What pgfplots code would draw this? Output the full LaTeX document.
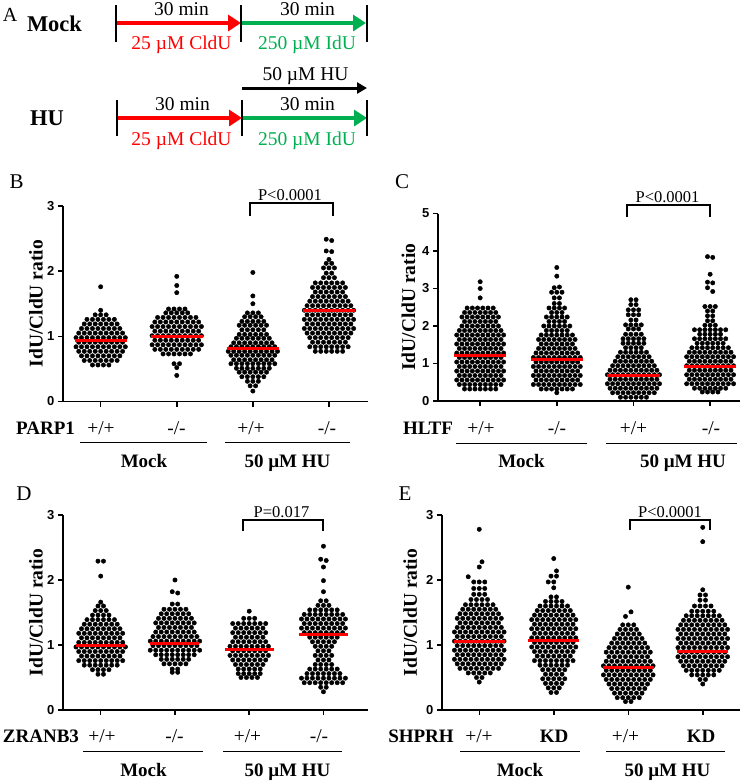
\documentclass[border=0pt]{standalone}
\usepackage{fontspec}
\setmainfont{Liberation Serif}
\setsansfont{Liberation Sans}
\usepackage{pgfplots}
\pgfplotsset{compat=1.18}
\usetikzlibrary{arrows.meta}
\definecolor{cldu}{RGB}{255,0,0}
\definecolor{idu}{RGB}{0,176,80}
\newcommand\fs[1]{\fontsize{#1}{#1}\selectfont}
\tikzset{
  lab/.style={anchor=base, font=\fs{19.5}},
  blab/.style={anchor=base, font=\bfseries\fs{19}},
}
\pgfplotsset{
  swarm/.style={scale only axis, axis x line*=bottom, axis y line*=left,
    clip marker paths=true,
    axis line style={line width=1.5pt}, tick style={black, line width=1.5pt},
    tick align=outside, major tick length=5pt,
    xtick={1,2,3,4}, xticklabels={}, ymin=0,
    /pgf/number format/assume math mode=true,
    yticklabel style={font=\sffamily\bfseries\fs{13}},
    ylabel={IdU/CldU ratio}, ylabel style={font=\bfseries\fs{19.5}, anchor=center}},
  dots/.style={only marks, mark=*, mark size=2.2pt, black},
  mean/.style={draw=cldu, line width=3pt},
  tk/.style={black, line width=1.5pt},
  ul/.style={black, line width=1.3pt},
}
\begin{document}
\begin{tikzpicture}
\useasboundingbox (0,0) rectangle (750pt,-784pt);

% ---------- overlay: schematic and text in image pixels
\begin{axis}[at={(0pt,0pt)}, anchor=north west, scale only axis, width=750pt, height=784pt,
  xmin=0, xmax=750, ymin=0, ymax=784, y dir=reverse, hide axis, clip=false]
% panel A arrows
\addplot[cldu, line width=4.5pt, -{Triangle[length=13pt,width=16pt]}] coordinates {(116,23) (241,23)};
\addplot[idu, line width=4.5pt, -{Triangle[length=13pt,width=16pt]}] coordinates {(241,23) (366,23)};
\addplot[cldu, line width=4.5pt, -{Triangle[length=13pt,width=16pt]}] coordinates {(117,118) (242,118)};
\addplot[idu, line width=4.5pt, -{Triangle[length=13pt,width=16pt]}] coordinates {(242,118) (367,118)};
\addplot[black, line width=3pt, -{Triangle[length=10pt,width=11pt]}] coordinates {(242,88) (367,88)};
\addplot[tk] coordinates {(116,5) (116,42)};
\addplot[tk] coordinates {(241,5) (241,42)};
\addplot[tk] coordinates {(367,5) (367,42)};
\addplot[tk] coordinates {(117,100) (117,136)};
\addplot[tk] coordinates {(242,100) (242,136)};
\addplot[tk] coordinates {(367,100) (367,136)};
\node[anchor=base, font=\fs{20}] at (axis cs:10,21.7) {A};
\node[anchor=base, font=\bfseries\fs{22.5}] at (axis cs:54.5,31) {Mock};
\node[anchor=base, font=\bfseries\fs{22.5}] at (axis cs:47,125) {HU};
\node[anchor=base, font=\fs{19.5}] at (axis cs:181.5,15) {30 min};
\node[anchor=base, font=\fs{19.5}] at (axis cs:307.5,15) {30 min};
\node[anchor=base, font=\fs{19.5}, text=cldu] at (axis cs:181.5,49.5) {25 µM CldU};
\node[anchor=base, font=\fs{19.5}, text=idu] at (axis cs:307,49.5) {250 µM IdU};
\node[anchor=base, font=\fs{19.5}] at (axis cs:305.5,80) {50 µM HU};
\node[anchor=base, font=\fs{19.5}] at (axis cs:182.5,110) {30 min};
\node[anchor=base, font=\fs{19.5}] at (axis cs:307.5,110) {30 min};
\node[anchor=base, font=\fs{19.5}, text=cldu] at (axis cs:181.5,145) {25 µM CldU};
\node[anchor=base, font=\fs{19.5}, text=idu] at (axis cs:307,145) {250 µM IdU};
% panel letters
\node[anchor=base, font=\fs{21}] at (axis cs:16.7,188.5) {B};
\node[anchor=base, font=\fs{21}] at (axis cs:402,188.5) {C};
\node[anchor=base, font=\fs{21}] at (axis cs:24,500) {D};
\node[anchor=base, font=\fs{21}] at (axis cs:405,500) {E};
% brackets
\addplot[ul] coordinates {(250,216) (250,203) (333,203) (333,216)};
\node[anchor=base, font=\fs{16.5}] at (axis cs:290,200) {P<0.0001};
\addplot[ul] coordinates {(627,217) (627,205) (710,205) (710,217)};
\node[anchor=base, font=\fs{16.5}] at (axis cs:667.5,202) {P<0.0001};
\addplot[ul] coordinates {(243,531) (243,520) (323,520) (323,531)};
\node[anchor=base, font=\fs{16.5}] at (axis cs:281.5,517) {P=0.017};
\addplot[ul] coordinates {(630,530) (630,520) (710,520) (710,530)};
\node[anchor=base, font=\fs{16.5}] at (axis cs:670,517) {P<0.0001};
% category labels B
\node[blab] at (axis cs:45.5,434.5) {PARP1};
\node[lab] at (axis cs:101,434.5) {+/+};
\node[lab] at (axis cs:176.5,434.5) {-/-};
\node[lab] at (axis cs:251,434.5) {+/+};
\node[lab] at (axis cs:327,434.5) {-/-};
\addplot[ul] coordinates {(80,442.5) (207,442.5)};
\addplot[ul] coordinates {(225,442.5) (350,442.5)};
\node[blab] at (axis cs:144,467) {Mock};
\node[blab] at (axis cs:287.5,467) {50 µM HU};
% category labels C
\node[blab] at (axis cs:428,434.5) {HLTF};
\node[lab] at (axis cs:481,434.5) {+/+};
\node[lab] at (axis cs:557,434.5) {-/-};
\node[lab] at (axis cs:633.5,434.5) {+/+};
\node[lab] at (axis cs:711,434.5) {-/-};
\addplot[ul] coordinates {(456,443.5) (587,443.5)};
\addplot[ul] coordinates {(606,443.5) (737,443.5)};
\node[blab] at (axis cs:521.5,467) {Mock};
\node[blab] at (axis cs:683,467) {50 µM HU};
% category labels D
\node[blab] at (axis cs:41,742.5) {ZRANB3};
\node[lab] at (axis cs:102,742.5) {+/+};
\node[lab] at (axis cs:174.5,742.5) {-/-};
\node[lab] at (axis cs:247.5,742.5) {+/+};
\node[lab] at (axis cs:319,742.5) {-/-};
\addplot[ul] coordinates {(83,751.5) (203,751.5)};
\addplot[ul] coordinates {(223,751.5) (342,751.5)};
\node[blab] at (axis cs:143.5,776.5) {Mock};
\node[blab] at (axis cs:287.5,776.5) {50 µM HU};
% category labels E
\node[blab] at (axis cs:421,742.5) {SHPRH};
\node[lab] at (axis cs:479,742.5) {+/+};
\node[blab] at (axis cs:554,742.5) {KD};
\node[lab] at (axis cs:625.5,742.5) {+/+};
\node[blab] at (axis cs:701,742.5) {KD};
\addplot[ul] coordinates {(460,751.5) (580,751.5)};
\addplot[ul] coordinates {(606,751.5) (725,751.5)};
\node[blab] at (axis cs:520,776.5) {Mock};
\node[blab] at (axis cs:667.5,776.5) {50 µM HU};
\end{axis}

% ---------- B: PARP1
\begin{axis}[swarm, at={(63pt,-401.5pt)}, anchor=south west, width=305pt, height=195.5pt,
  xmin=0.505, xmax=4.513, ymax=3, ytick={0,1,2,3},
  ylabel style={at={(axis description cs:-0.0885,0.5)}}]
\addplot[dots] table[row sep=\\, x expr=1+0.036*\thisrow{o}, y=y] {o y\\
0 1.76\\0 1.40\\
-2 1.33\\0 1.33\\2 1.33\\
-5 1.26\\-3 1.26\\-1 1.26\\1 1.26\\3 1.26\\5 1.26\\
-6 1.19\\-4 1.19\\-2 1.19\\0 1.19\\2 1.19\\4 1.19\\6 1.19\\
-7 1.12\\-5 1.12\\-3 1.12\\-1 1.12\\1 1.12\\3 1.12\\5 1.12\\7 1.12\\
-8 1.05\\-6 1.05\\-4 1.05\\-2 1.05\\0 1.05\\2 1.05\\4 1.05\\6 1.05\\8 1.05\\
-9 .98\\-7 .98\\-5 .98\\-3 .98\\-1 .98\\1 .98\\3 .98\\5 .98\\7 .98\\9 .98\\
-8 .91\\-6 .91\\-4 .91\\-2 .91\\0 .91\\2 .91\\4 .91\\6 .91\\8 .91\\
-9 .84\\-7 .84\\-5 .84\\-3 .84\\-1 .84\\1 .84\\3 .84\\5 .84\\7 .84\\9 .84\\
-8 .77\\-6 .77\\-4 .77\\-2 .77\\0 .77\\2 .77\\4 .77\\6 .77\\8 .77\\
-7 .70\\-5 .70\\-3 .70\\-1 .70\\1 .70\\3 .70\\5 .70\\7 .70\\
-6 .63\\-4 .63\\-2 .63\\0 .63\\2 .63\\4 .63\\6 .63\\
-3 .56\\-1 .56\\1 .56\\3 .56\\
};
\addplot[dots] table[row sep=\\, x expr=2+0.036*\thisrow{o}, y=y] {o y\\
0 1.92\\0 1.78\\0 1.67\\
-3 1.42\\-1 1.42\\1 1.42\\3 1.42\\
-4 1.36\\-2 1.36\\0 1.36\\2 1.36\\4 1.36\\
-7 1.29\\-5 1.29\\-3 1.29\\-1 1.29\\1 1.29\\3 1.29\\5 1.29\\7 1.29\\
-8 1.22\\-6 1.22\\-4 1.22\\-2 1.22\\0 1.22\\2 1.22\\4 1.22\\6 1.22\\8 1.22\\
-9 1.15\\-7 1.15\\-5 1.15\\-3 1.15\\-1 1.15\\1 1.15\\3 1.15\\5 1.15\\7 1.15\\9 1.15\\
-8 1.08\\-6 1.08\\-4 1.08\\-2 1.08\\0 1.08\\2 1.08\\4 1.08\\6 1.08\\8 1.08\\
-9 1.01\\-7 1.01\\-5 1.01\\-3 1.01\\-1 1.01\\1 1.01\\3 1.01\\5 1.01\\7 1.01\\9 1.01\\
-8 .94\\-6 .94\\-4 .94\\-2 .94\\0 .94\\2 .94\\4 .94\\6 .94\\8 .94\\
-9 .87\\-7 .87\\-5 .87\\-3 .87\\-1 .87\\1 .87\\3 .87\\5 .87\\7 .87\\9 .87\\
-8 .80\\-6 .80\\-4 .80\\-2 .80\\0 .80\\2 .80\\4 .80\\6 .80\\8 .80\\
-5 .73\\-3 .73\\-1 .73\\1 .73\\3 .73\\5 .73\\
-1 .58\\1 .58\\0 .52\\0 .40\\
};
\addplot[dots] table[row sep=\\, x expr=3+0.036*\thisrow{o}, y=y] {o y\\
0 1.98\\0 1.62\\0 1.50\\
-2 1.36\\0 1.36\\2 1.36\\
-3 1.30\\-1 1.30\\1 1.30\\3 1.30\\
-4 1.23\\-2 1.23\\0 1.23\\2 1.23\\4 1.23\\
-5 1.17\\-3 1.17\\-1 1.17\\1 1.17\\3 1.17\\5 1.17\\
-4 1.10\\-2 1.10\\0 1.10\\2 1.10\\4 1.10\\
-5 1.03\\-3 1.03\\-1 1.03\\1 1.03\\3 1.03\\5 1.03\\
-6 .97\\-4 .97\\-2 .97\\0 .97\\2 .97\\4 .97\\6 .97\\
-7 .90\\-5 .90\\-3 .90\\-1 .90\\1 .90\\3 .90\\5 .90\\7 .90\\
-8 .84\\-6 .84\\-4 .84\\-2 .84\\0 .84\\2 .84\\4 .84\\6 .84\\8 .84\\
-9 .77\\-7 .77\\-5 .77\\-3 .77\\-1 .77\\1 .77\\3 .77\\5 .77\\7 .77\\9 .77\\
-8 .71\\-6 .71\\-4 .71\\-2 .71\\0 .71\\2 .71\\4 .71\\6 .71\\8 .71\\
-7 .64\\-5 .64\\-3 .64\\-1 .64\\1 .64\\3 .64\\5 .64\\7 .64\\
-8 .58\\-6 .58\\-4 .58\\-2 .58\\0 .58\\2 .58\\4 .58\\6 .58\\8 .58\\
-6 .51\\-4 .51\\-2 .51\\0 .51\\2 .51\\4 .51\\6 .51\\
-5 .45\\-3 .45\\-1 .45\\1 .45\\3 .45\\5 .45\\
-4 .38\\-2 .38\\0 .38\\2 .38\\4 .38\\
-2 .31\\0 .31\\2 .31\\
-1 .24\\1 .24\\0 .16\\
};
\addplot[dots] table[row sep=\\, x expr=4+0.036*\thisrow{o}, y=y] {o y\\
-1 2.49\\1 2.47\\-1 2.31\\1 2.30\\0 2.18\\-1 2.12\\1 2.12\\
-2 2.05\\0 2.05\\2 2.05\\-1 1.97\\1 1.97\\-2 1.90\\0 1.90\\2 1.90\\
-5 1.82\\-3 1.82\\-1 1.82\\1 1.82\\3 1.82\\5 1.82\\
-6 1.75\\-4 1.75\\-2 1.75\\0 1.75\\2 1.75\\4 1.75\\6 1.75\\
-5 1.68\\-3 1.68\\-1 1.68\\1 1.68\\3 1.68\\5 1.68\\
-6 1.61\\-4 1.61\\-2 1.61\\0 1.61\\2 1.61\\4 1.61\\6 1.61\\
-7 1.54\\-5 1.54\\-3 1.54\\-1 1.54\\1 1.54\\3 1.54\\5 1.54\\7 1.54\\
-8 1.47\\-6 1.47\\-4 1.47\\-2 1.47\\0 1.47\\2 1.47\\4 1.47\\6 1.47\\8 1.47\\
-9 1.40\\-7 1.40\\-5 1.40\\-3 1.40\\-1 1.40\\1 1.40\\3 1.40\\5 1.40\\7 1.40\\9 1.40\\
-8 1.33\\-6 1.33\\-4 1.33\\-2 1.33\\0 1.33\\2 1.33\\4 1.33\\6 1.33\\8 1.33\\
-9 1.26\\-7 1.26\\-5 1.26\\-3 1.26\\-1 1.26\\1 1.26\\3 1.26\\5 1.26\\7 1.26\\9 1.26\\
-8 1.19\\-6 1.19\\-4 1.19\\-2 1.19\\0 1.19\\2 1.19\\4 1.19\\6 1.19\\8 1.19\\
-9 1.12\\-7 1.12\\-5 1.12\\-3 1.12\\-1 1.12\\1 1.12\\3 1.12\\5 1.12\\7 1.12\\9 1.12\\
-8 1.05\\-6 1.05\\-4 1.05\\-2 1.05\\0 1.05\\2 1.05\\4 1.05\\6 1.05\\8 1.05\\
-7 .98\\-5 .98\\-3 .98\\-1 .98\\1 .98\\3 .98\\5 .98\\7 .98\\
-6 .91\\-4 .91\\-2 .91\\0 .91\\2 .91\\4 .91\\6 .91\\
-7 .84\\-5 .84\\-3 .84\\-1 .84\\1 .84\\3 .84\\5 .84\\7 .84\\
-5 .77\\-3 .77\\-1 .77\\1 .77\\3 .77\\5 .77\\
};
\addplot[mean] coordinates {(0.66,0.94) (1.34,0.94)};
\addplot[mean] coordinates {(1.66,0.99) (2.34,0.99)};
\addplot[mean] coordinates {(2.66,0.81) (3.34,0.81)};
\addplot[mean] coordinates {(3.66,1.39) (4.34,1.39)};
\end{axis}

% ---------- C: HLTF
\begin{axis}[swarm, at={(438pt,-401pt)}, anchor=south west, width=302pt, height=187.5pt,
  xmin=0.45, xmax=4.39, ymax=5, ytick={0,1,2,3,4,5},
  ylabel style={at={(axis description cs:-0.098,0.5)}}]
\addplot[dots] table[row sep=\\, x expr=1+0.034*\thisrow{o}, y=y] {o y\\
0 3.18\\0 3.00\\0 2.75\\
-5 2.48\\-3 2.48\\-1 2.48\\1 2.48\\3 2.48\\5 2.48\\
-6 2.36\\-4 2.36\\-2 2.36\\0 2.36\\2 2.36\\4 2.36\\6 2.36\\
-7 2.24\\-5 2.24\\-3 2.24\\-1 2.24\\1 2.24\\3 2.24\\5 2.24\\7 2.24\\
-6 2.12\\-4 2.12\\-2 2.12\\0 2.12\\2 2.12\\4 2.12\\6 2.12\\
-7 2.00\\-5 2.00\\-3 2.00\\-1 2.00\\1 2.00\\3 2.00\\5 2.00\\7 2.00\\
-8 1.88\\-6 1.88\\-4 1.88\\-2 1.88\\0 1.88\\2 1.88\\4 1.88\\6 1.88\\8 1.88\\
-9 1.76\\-7 1.76\\-5 1.76\\-3 1.76\\-1 1.76\\1 1.76\\3 1.76\\5 1.76\\7 1.76\\9 1.76\\
-8 1.64\\-6 1.64\\-4 1.64\\-2 1.64\\0 1.64\\2 1.64\\4 1.64\\6 1.64\\8 1.64\\
-9 1.52\\-7 1.52\\-5 1.52\\-3 1.52\\-1 1.52\\1 1.52\\3 1.52\\5 1.52\\7 1.52\\9 1.52\\
-8 1.40\\-6 1.40\\-4 1.40\\-2 1.40\\0 1.40\\2 1.40\\4 1.40\\6 1.40\\8 1.40\\
-9 1.28\\-7 1.28\\-5 1.28\\-3 1.28\\-1 1.28\\1 1.28\\3 1.28\\5 1.28\\7 1.28\\9 1.28\\
-8 1.16\\-6 1.16\\-4 1.16\\-2 1.16\\0 1.16\\2 1.16\\4 1.16\\6 1.16\\8 1.16\\
-9 1.04\\-7 1.04\\-5 1.04\\-3 1.04\\-1 1.04\\1 1.04\\3 1.04\\5 1.04\\7 1.04\\9 1.04\\
-8 .92\\-6 .92\\-4 .92\\-2 .92\\0 .92\\2 .92\\4 .92\\6 .92\\8 .92\\
-9 .80\\-7 .80\\-5 .80\\-3 .80\\-1 .80\\1 .80\\3 .80\\5 .80\\7 .80\\9 .80\\
-8 .68\\-6 .68\\-4 .68\\-2 .68\\0 .68\\2 .68\\4 .68\\6 .68\\8 .68\\
-9 .56\\-7 .56\\-5 .56\\-3 .56\\-1 .56\\1 .56\\3 .56\\5 .56\\7 .56\\9 .56\\
-8 .44\\-6 .44\\-4 .44\\-2 .44\\0 .44\\2 .44\\4 .44\\6 .44\\8 .44\\
-6 .32\\-4 .32\\-2 .32\\0 .32\\2 .32\\4 .32\\6 .32\\
};
\addplot[dots] table[row sep=\\, x expr=2+0.034*\thisrow{o}, y=y] {o y\\
0 3.56\\0 3.33\\-1 3.02\\1 3.04\\-2 2.90\\0 2.90\\2 2.90\\-1 2.75\\1 2.75\\
-1 2.60\\1 2.60\\-3 2.48\\-1 2.48\\1 2.48\\3 2.48\\-2 2.36\\0 2.36\\2 2.36\\
-4 2.24\\-2 2.24\\0 2.24\\2 2.24\\4 2.24\\-3 2.12\\-1 2.12\\1 2.12\\3 2.12\\
-5 2.00\\-3 2.00\\-1 2.00\\1 2.00\\3 2.00\\5 2.00\\
-4 1.88\\-2 1.88\\0 1.88\\2 1.88\\4 1.88\\
-6 1.76\\-4 1.76\\-2 1.76\\0 1.76\\2 1.76\\4 1.76\\6 1.76\\
-7 1.64\\-5 1.64\\-3 1.64\\-1 1.64\\1 1.64\\3 1.64\\5 1.64\\7 1.64\\
-6 1.52\\-4 1.52\\-2 1.52\\0 1.52\\2 1.52\\4 1.52\\6 1.52\\
-7 1.40\\-5 1.40\\-3 1.40\\-1 1.40\\1 1.40\\3 1.40\\5 1.40\\7 1.40\\
-8 1.28\\-6 1.28\\-4 1.28\\-2 1.28\\0 1.28\\2 1.28\\4 1.28\\6 1.28\\8 1.28\\
-9 1.16\\-7 1.16\\-5 1.16\\-3 1.16\\-1 1.16\\1 1.16\\3 1.16\\5 1.16\\7 1.16\\9 1.16\\
-8 1.04\\-6 1.04\\-4 1.04\\-2 1.04\\0 1.04\\2 1.04\\4 1.04\\6 1.04\\8 1.04\\
-9 .92\\-7 .92\\-5 .92\\-3 .92\\-1 .92\\1 .92\\3 .92\\5 .92\\7 .92\\9 .92\\
-8 .80\\-6 .80\\-4 .80\\-2 .80\\0 .80\\2 .80\\4 .80\\6 .80\\8 .80\\
-9 .68\\-7 .68\\-5 .68\\-3 .68\\-1 .68\\1 .68\\3 .68\\5 .68\\7 .68\\9 .68\\
-8 .56\\-6 .56\\-4 .56\\-2 .56\\0 .56\\2 .56\\4 .56\\6 .56\\8 .56\\
-9 .44\\-7 .44\\-5 .44\\-3 .44\\-1 .44\\1 .44\\3 .44\\5 .44\\7 .44\\9 .44\\
-6 .32\\-4 .32\\-2 .32\\0 .32\\2 .32\\4 .32\\6 .32\\
0 .22\\
};
\addplot[dots] table[row sep=\\, x expr=3+0.034*\thisrow{o}, y=y] {o y\\
-1 2.70\\1 2.70\\-1 2.57\\1 2.57\\-2 2.43\\0 2.43\\2 2.43\\-2 2.30\\0 2.30\\2 2.30\\
-1 2.16\\1 2.16\\-3 2.03\\-1 2.03\\1 2.03\\3 2.03\\-2 1.92\\0 1.92\\2 1.92\\
-3 1.78\\-1 1.78\\1 1.78\\3 1.78\\-4 1.66\\-2 1.66\\0 1.66\\2 1.66\\4 1.66\\
-4 1.54\\-2 1.54\\0 1.54\\2 1.54\\4 1.54\\-3 1.42\\-1 1.42\\1 1.42\\3 1.42\\
-5 1.30\\-3 1.30\\-1 1.30\\1 1.30\\3 1.30\\5 1.30\\
-6 1.18\\-4 1.18\\-2 1.18\\0 1.18\\2 1.18\\4 1.18\\6 1.18\\
-7 1.06\\-5 1.06\\-3 1.06\\-1 1.06\\1 1.06\\3 1.06\\5 1.06\\7 1.06\\
-8 .94\\-6 .94\\-4 .94\\-2 .94\\0 .94\\2 .94\\4 .94\\6 .94\\8 .94\\
-9 .82\\-7 .82\\-5 .82\\-3 .82\\-1 .82\\1 .82\\3 .82\\5 .82\\7 .82\\9 .82\\
-10 .70\\-8 .70\\-6 .70\\-4 .70\\-2 .70\\0 .70\\2 .70\\4 .70\\6 .70\\8 .70\\10 .70\\
-9 .58\\-7 .58\\-5 .58\\-3 .58\\-1 .58\\1 .58\\3 .58\\5 .58\\7 .58\\9 .58\\
-10 .46\\-8 .46\\-6 .46\\-4 .46\\-2 .46\\0 .46\\2 .46\\4 .46\\6 .46\\8 .46\\10 .46\\
-9 .34\\-7 .34\\-5 .34\\-3 .34\\-1 .34\\1 .34\\3 .34\\5 .34\\7 .34\\9 .34\\
-8 .22\\-6 .22\\-4 .22\\-2 .22\\0 .22\\2 .22\\4 .22\\6 .22\\8 .22\\
-5 .10\\-3 .10\\-1 .10\\1 .10\\3 .10\\5 .10\\
};
\addplot[dots] table[row sep=\\, x expr=4+0.034*\thisrow{o}, y=y] {o y\\
-1 3.85\\1 3.83\\0 3.38\\-1 3.17\\1 3.15\\-1 3.02\\1 2.92\\
-2 2.52\\0 2.52\\2 2.52\\-1 2.40\\1 2.40\\-1 2.27\\1 2.27\\-1 2.14\\1 2.14\\-2 2.02\\0 2.02\\2 2.02\\
-6 1.90\\-4 1.90\\-2 1.90\\0 1.90\\2 1.90\\4 1.90\\6 1.90\\
-4 1.78\\-2 1.78\\0 1.78\\2 1.78\\4 1.78\\
-6 1.66\\-4 1.66\\-2 1.66\\0 1.66\\2 1.66\\4 1.66\\6 1.66\\
-5 1.54\\-3 1.54\\-1 1.54\\1 1.54\\3 1.54\\5 1.54\\
-7 1.42\\-5 1.42\\-3 1.42\\-1 1.42\\1 1.42\\3 1.42\\5 1.42\\7 1.42\\
-8 1.30\\-6 1.30\\-4 1.30\\-2 1.30\\0 1.30\\2 1.30\\4 1.30\\6 1.30\\8 1.30\\
-9 1.18\\-7 1.18\\-5 1.18\\-3 1.18\\-1 1.18\\1 1.18\\3 1.18\\5 1.18\\7 1.18\\9 1.18\\
-8 1.06\\-6 1.06\\-4 1.06\\-2 1.06\\0 1.06\\2 1.06\\4 1.06\\6 1.06\\8 1.06\\
-9 .94\\-7 .94\\-5 .94\\-3 .94\\-1 .94\\1 .94\\3 .94\\5 .94\\7 .94\\9 .94\\
-8 .82\\-6 .82\\-4 .82\\-2 .82\\0 .82\\2 .82\\4 .82\\6 .82\\8 .82\\
-9 .70\\-7 .70\\-5 .70\\-3 .70\\-1 .70\\1 .70\\3 .70\\5 .70\\7 .70\\9 .70\\
-8 .58\\-6 .58\\-4 .58\\-2 .58\\0 .58\\2 .58\\4 .58\\6 .58\\8 .58\\
-9 .46\\-7 .46\\-5 .46\\-3 .46\\-1 .46\\1 .46\\3 .46\\5 .46\\7 .46\\9 .46\\
-6 .34\\-4 .34\\-2 .34\\0 .34\\2 .34\\4 .34\\6 .34\\
-3 .24\\-1 .24\\1 .24\\3 .24\\
};
\addplot[mean] coordinates {(0.66,1.22) (1.34,1.22)};
\addplot[mean] coordinates {(1.66,1.12) (2.34,1.12)};
\addplot[mean] coordinates {(2.66,0.67) (3.34,0.67)};
\addplot[mean] coordinates {(3.66,0.93) (4.34,0.93)};
\end{axis}

% ---------- D: ZRANB3
\begin{axis}[swarm, at={(63pt,-710pt)}, anchor=south west, width=305pt, height=195pt,
  xmin=0.492, xmax=4.6, ymax=3, ytick={0,1,2,3},
  ylabel style={at={(axis description cs:-0.0885,0.5)}}]
\addplot[dots] table[row sep=\\, x expr=1+0.037*\thisrow{o}, y=y] {o y\\
-1 2.29\\1 2.29\\0 2.06\\0 1.66\\-1 1.60\\1 1.60\\
-2 1.53\\0 1.53\\2 1.53\\-3 1.46\\-1 1.46\\1 1.46\\3 1.46\\
-5 1.39\\-3 1.39\\-1 1.39\\1 1.39\\3 1.39\\5 1.39\\
-6 1.32\\-4 1.32\\-2 1.32\\0 1.32\\2 1.32\\4 1.32\\6 1.32\\
-7 1.25\\-5 1.25\\-3 1.25\\-1 1.25\\1 1.25\\3 1.25\\5 1.25\\7 1.25\\
-8 1.18\\-6 1.18\\-4 1.18\\-2 1.18\\0 1.18\\2 1.18\\4 1.18\\6 1.18\\8 1.18\\
-7 1.11\\-5 1.11\\-3 1.11\\-1 1.11\\1 1.11\\3 1.11\\5 1.11\\7 1.11\\
-8 1.04\\-6 1.04\\-4 1.04\\-2 1.04\\0 1.04\\2 1.04\\4 1.04\\6 1.04\\8 1.04\\
-9 .97\\-7 .97\\-5 .97\\-3 .97\\-1 .97\\1 .97\\3 .97\\5 .97\\7 .97\\9 .97\\
-8 .90\\-6 .90\\-4 .90\\-2 .90\\0 .90\\2 .90\\4 .90\\6 .90\\8 .90\\
-7 .83\\-5 .83\\-3 .83\\-1 .83\\1 .83\\3 .83\\5 .83\\7 .83\\
-8 .76\\-6 .76\\-4 .76\\-2 .76\\0 .76\\2 .76\\4 .76\\6 .76\\8 .76\\
-6 .69\\-4 .69\\-2 .69\\0 .69\\2 .69\\4 .69\\6 .69\\
-3 .62\\-1 .62\\1 .62\\3 .62\\
-1 .55\\1 .55\\
};
\addplot[dots] table[row sep=\\, x expr=2+0.037*\thisrow{o}, y=y] {o y\\
0 2.00\\-1 1.82\\1 1.80\\-1 1.63\\1 1.63\\
-4 1.55\\-2 1.55\\0 1.55\\2 1.55\\4 1.55\\
-5 1.48\\-3 1.48\\-1 1.48\\1 1.48\\3 1.48\\5 1.48\\
-6 1.41\\-4 1.41\\-2 1.41\\0 1.41\\2 1.41\\4 1.41\\6 1.41\\
-7 1.34\\-5 1.34\\-3 1.34\\-1 1.34\\1 1.34\\3 1.34\\5 1.34\\7 1.34\\
-6 1.27\\-4 1.27\\-2 1.27\\0 1.27\\2 1.27\\4 1.27\\6 1.27\\
-7 1.20\\-5 1.20\\-3 1.20\\-1 1.20\\1 1.20\\3 1.20\\5 1.20\\7 1.20\\
-8 1.13\\-6 1.13\\-4 1.13\\-2 1.13\\0 1.13\\2 1.13\\4 1.13\\6 1.13\\8 1.13\\
-9 1.06\\-7 1.06\\-5 1.06\\-3 1.06\\-1 1.06\\1 1.06\\3 1.06\\5 1.06\\7 1.06\\9 1.06\\
-8 .99\\-6 .99\\-4 .99\\-2 .99\\0 .99\\2 .99\\4 .99\\6 .99\\8 .99\\
-9 .92\\-7 .92\\-5 .92\\-3 .92\\-1 .92\\1 .92\\3 .92\\5 .92\\7 .92\\9 .92\\
-7 .85\\-5 .85\\-3 .85\\-1 .85\\1 .85\\3 .85\\5 .85\\7 .85\\
-5 .78\\-3 .78\\-1 .78\\1 .78\\3 .78\\5 .78\\
-4 .71\\-2 .71\\0 .71\\2 .71\\4 .71\\
-1 .63\\1 .63\\-1 .58\\1 .58\\
};
\addplot[dots] table[row sep=\\, x expr=3+0.037*\thisrow{o}, y=y] {o y\\
0 1.52\\-2 1.41\\0 1.41\\2 1.41\\
-6 1.33\\-4 1.33\\-2 1.33\\0 1.33\\2 1.33\\4 1.33\\6 1.33\\
-5 1.26\\-3 1.26\\-1 1.26\\1 1.26\\3 1.26\\5 1.26\\
-6 1.19\\-4 1.19\\-2 1.19\\0 1.19\\2 1.19\\4 1.19\\6 1.19\\
-5 1.12\\-3 1.12\\-1 1.12\\1 1.12\\3 1.12\\5 1.12\\
-6 1.05\\-4 1.05\\-2 1.05\\0 1.05\\2 1.05\\4 1.05\\6 1.05\\
-7 .98\\-5 .98\\-3 .98\\-1 .98\\1 .98\\3 .98\\5 .98\\7 .98\\
-6 .91\\-4 .91\\-2 .91\\0 .91\\2 .91\\4 .91\\6 .91\\
-7 .84\\-5 .84\\-3 .84\\-1 .84\\1 .84\\3 .84\\5 .84\\7 .84\\
-6 .77\\-4 .77\\-2 .77\\0 .77\\2 .77\\4 .77\\6 .77\\
-5 .70\\-3 .70\\-1 .70\\1 .70\\3 .70\\5 .70\\
-4 .63\\-2 .63\\0 .63\\2 .63\\4 .63\\
-4 .56\\-2 .56\\0 .56\\2 .56\\4 .56\\
-3 .50\\-1 .50\\1 .50\\3 .50\\
};
\addplot[dots] table[row sep=\\, x expr=4+0.037*\thisrow{o}, y=y] {o y\\
0 2.52\\-1 2.32\\1 2.30\\0 2.20\\0 1.99\\0 1.82\\-1 1.68\\1 1.68\\
-2 1.61\\0 1.61\\2 1.61\\
-5 1.54\\-3 1.54\\-1 1.54\\1 1.54\\3 1.54\\5 1.54\\
-7 1.47\\-5 1.47\\-3 1.47\\-1 1.47\\1 1.47\\3 1.47\\5 1.47\\7 1.47\\
-8 1.40\\-6 1.40\\-4 1.40\\-2 1.40\\0 1.40\\2 1.40\\4 1.40\\6 1.40\\8 1.40\\
-7 1.33\\-5 1.33\\-3 1.33\\-1 1.33\\1 1.33\\3 1.33\\5 1.33\\7 1.33\\
-8 1.26\\-6 1.26\\-4 1.26\\-2 1.26\\0 1.26\\2 1.26\\4 1.26\\6 1.26\\8 1.26\\
-7 1.19\\-5 1.19\\-3 1.19\\-1 1.19\\1 1.19\\3 1.19\\5 1.19\\7 1.19\\
-5 1.12\\-3 1.12\\-1 1.12\\1 1.12\\3 1.12\\5 1.12\\
-4 1.05\\-2 1.05\\0 1.05\\2 1.05\\4 1.05\\
-3 .98\\-1 .98\\1 .98\\3 .98\\
-2 .91\\0 .91\\2 .91\\
-3 .84\\-1 .84\\1 .84\\3 .84\\
-2 .77\\0 .77\\2 .77\\
-3 .70\\-1 .70\\1 .70\\3 .70\\
-5 .63\\-3 .63\\-1 .63\\1 .63\\3 .63\\5 .63\\
-6 .56\\-4 .56\\-2 .56\\0 .56\\2 .56\\4 .56\\6 .56\\
-8 .49\\-6 .49\\-4 .49\\-2 .49\\0 .49\\2 .49\\4 .49\\6 .49\\8 .49\\
-7 .42\\-5 .42\\-3 .42\\-1 .42\\1 .42\\3 .42\\5 .42\\7 .42\\
-1 .35\\1 .35\\0 .28\\
};
\addplot[mean] coordinates {(0.67,1.00) (1.33,1.00)};
\addplot[mean] coordinates {(1.67,1.03) (2.33,1.03)};
\addplot[mean] coordinates {(2.67,0.93) (3.33,0.93)};
\addplot[mean] coordinates {(3.67,1.165) (4.33,1.165)};
\end{axis}

% ---------- E: SHPRH
\begin{axis}[swarm, at={(442pt,-710pt)}, anchor=south west, width=298pt, height=195pt,
  xmin=0.5, xmax=4.5, ymax=3, ytick={0,1,2,3},
  ylabel style={at={(axis description cs:-0.107,0.5)}}]
\addplot[dots] table[row sep=\\, x expr=1+0.037*\thisrow{o}, y=y] {o y\\
0 2.78\\1 2.28\\0 2.20\\-4 2.05\\
-2 1.97\\0 1.97\\2 1.97\\-2 1.87\\0 1.87\\2 1.87\\-2 1.78\\0 1.78\\2 1.78\\
-3 1.70\\-1 1.70\\1 1.70\\3 1.70\\
-5 1.62\\-3 1.62\\-1 1.62\\1 1.62\\3 1.62\\5 1.62\\
-6 1.55\\-4 1.55\\-2 1.55\\0 1.55\\2 1.55\\4 1.55\\6 1.55\\
-7 1.48\\-5 1.48\\-3 1.48\\-1 1.48\\1 1.48\\3 1.48\\5 1.48\\7 1.48\\
-8 1.41\\-6 1.41\\-4 1.41\\-2 1.41\\0 1.41\\2 1.41\\4 1.41\\6 1.41\\8 1.41\\
-7 1.34\\-5 1.34\\-3 1.34\\-1 1.34\\1 1.34\\3 1.34\\5 1.34\\7 1.34\\
-8 1.27\\-6 1.27\\-4 1.27\\-2 1.27\\0 1.27\\2 1.27\\4 1.27\\6 1.27\\8 1.27\\
-9 1.20\\-7 1.20\\-5 1.20\\-3 1.20\\-1 1.20\\1 1.20\\3 1.20\\5 1.20\\7 1.20\\9 1.20\\
-8 1.13\\-6 1.13\\-4 1.13\\-2 1.13\\0 1.13\\2 1.13\\4 1.13\\6 1.13\\8 1.13\\
-9 1.06\\-7 1.06\\-5 1.06\\-3 1.06\\-1 1.06\\1 1.06\\3 1.06\\5 1.06\\7 1.06\\9 1.06\\
-8 .99\\-6 .99\\-4 .99\\-2 .99\\0 .99\\2 .99\\4 .99\\6 .99\\8 .99\\
-9 .92\\-7 .92\\-5 .92\\-3 .92\\-1 .92\\1 .92\\3 .92\\5 .92\\7 .92\\9 .92\\
-8 .85\\-6 .85\\-4 .85\\-2 .85\\0 .85\\2 .85\\4 .85\\6 .85\\8 .85\\
-9 .78\\-7 .78\\-5 .78\\-3 .78\\-1 .78\\1 .78\\3 .78\\5 .78\\7 .78\\9 .78\\
-8 .71\\-6 .71\\-4 .71\\-2 .71\\0 .71\\2 .71\\4 .71\\6 .71\\8 .71\\
-7 .64\\-5 .64\\-3 .64\\-1 .64\\1 .64\\3 .64\\5 .64\\7 .64\\
-4 .57\\-2 .57\\0 .57\\2 .57\\4 .57\\
-1 .50\\1 .50\\0 .43\\
};
\addplot[dots] table[row sep=\\, x expr=2+0.037*\thisrow{o}, y=y] {o y\\
0 2.33\\1 2.14\\-1 2.06\\1 2.06\\-2 1.97\\0 1.97\\0 1.88\\
-1 1.74\\1 1.74\\-3 1.67\\-1 1.67\\1 1.67\\3 1.67\\
-5 1.60\\-3 1.60\\-1 1.60\\1 1.60\\3 1.60\\5 1.60\\
-6 1.53\\-4 1.53\\-2 1.53\\0 1.53\\2 1.53\\4 1.53\\6 1.53\\
-7 1.46\\-5 1.46\\-3 1.46\\-1 1.46\\1 1.46\\3 1.46\\5 1.46\\7 1.46\\
-8 1.39\\-6 1.39\\-4 1.39\\-2 1.39\\0 1.39\\2 1.39\\4 1.39\\6 1.39\\8 1.39\\
-7 1.32\\-5 1.32\\-3 1.32\\-1 1.32\\1 1.32\\3 1.32\\5 1.32\\7 1.32\\
-8 1.25\\-6 1.25\\-4 1.25\\-2 1.25\\0 1.25\\2 1.25\\4 1.25\\6 1.25\\8 1.25\\
-7 1.18\\-5 1.18\\-3 1.18\\-1 1.18\\1 1.18\\3 1.18\\5 1.18\\7 1.18\\
-8 1.11\\-6 1.11\\-4 1.11\\-2 1.11\\0 1.11\\2 1.11\\4 1.11\\6 1.11\\8 1.11\\
-7 1.04\\-5 1.04\\-3 1.04\\-1 1.04\\1 1.04\\3 1.04\\5 1.04\\7 1.04\\
-8 .97\\-6 .97\\-4 .97\\-2 .97\\0 .97\\2 .97\\4 .97\\6 .97\\8 .97\\
-7 .90\\-5 .90\\-3 .90\\-1 .90\\1 .90\\3 .90\\5 .90\\7 .90\\
-6 .83\\-4 .83\\-2 .83\\0 .83\\2 .83\\4 .83\\6 .83\\
-7 .76\\-5 .76\\-3 .76\\-1 .76\\1 .76\\3 .76\\5 .76\\7 .76\\
-5 .69\\-3 .69\\-1 .69\\1 .69\\3 .69\\5 .69\\
-4 .62\\-2 .62\\0 .62\\2 .62\\4 .62\\
-3 .55\\-1 .55\\1 .55\\3 .55\\
-4 .48\\-2 .48\\0 .48\\2 .48\\4 .48\\
-3 .41\\-1 .41\\1 .41\\3 .41\\
-2 .34\\0 .34\\2 .34\\-1 .27\\1 .27\\
};
\addplot[dots] table[row sep=\\, x expr=3+0.037*\thisrow{o}, y=y] {o y\\
0 1.89\\1 1.51\\-1 1.44\\
-2 1.31\\0 1.31\\2 1.31\\-3 1.24\\-1 1.24\\1 1.24\\3 1.24\\
-4 1.17\\-2 1.17\\0 1.17\\2 1.17\\4 1.17\\
-5 1.10\\-3 1.10\\-1 1.10\\1 1.10\\3 1.10\\5 1.10\\
-6 1.03\\-4 1.03\\-2 1.03\\0 1.03\\2 1.03\\4 1.03\\6 1.03\\
-7 .96\\-5 .96\\-3 .96\\-1 .96\\1 .96\\3 .96\\5 .96\\7 .96\\
-8 .89\\-6 .89\\-4 .89\\-2 .89\\0 .89\\2 .89\\4 .89\\6 .89\\8 .89\\
-7 .82\\-5 .82\\-3 .82\\-1 .82\\1 .82\\3 .82\\5 .82\\7 .82\\
-8 .75\\-6 .75\\-4 .75\\-2 .75\\0 .75\\2 .75\\4 .75\\6 .75\\8 .75\\
-9 .68\\-7 .68\\-5 .68\\-3 .68\\-1 .68\\1 .68\\3 .68\\5 .68\\7 .68\\9 .68\\
-8 .61\\-6 .61\\-4 .61\\-2 .61\\0 .61\\2 .61\\4 .61\\6 .61\\8 .61\\
-9 .54\\-7 .54\\-5 .54\\-3 .54\\-1 .54\\1 .54\\3 .54\\5 .54\\7 .54\\9 .54\\
-8 .47\\-6 .47\\-4 .47\\-2 .47\\0 .47\\2 .47\\4 .47\\6 .47\\8 .47\\
-7 .40\\-5 .40\\-3 .40\\-1 .40\\1 .40\\3 .40\\5 .40\\7 .40\\
-6 .33\\-4 .33\\-2 .33\\0 .33\\2 .33\\4 .33\\6 .33\\
-5 .26\\-3 .26\\-1 .26\\1 .26\\3 .26\\5 .26\\
-4 .19\\-2 .19\\0 .19\\2 .19\\4 .19\\
-1 .13\\1 .13\\
};
\addplot[dots] table[row sep=\\, x expr=4+0.037*\thisrow{o}, y=y] {o y\\
0 2.81\\0 2.59\\0 1.85\\-1 1.77\\1 1.77\\-1 1.69\\1 1.69\\
-3 1.60\\-1 1.60\\1 1.60\\3 1.60\\
-4 1.52\\-2 1.52\\0 1.52\\2 1.52\\4 1.52\\
-6 1.45\\-4 1.45\\-2 1.45\\0 1.45\\2 1.45\\4 1.45\\6 1.45\\
-7 1.38\\-5 1.38\\-3 1.38\\-1 1.38\\1 1.38\\3 1.38\\5 1.38\\7 1.38\\
-8 1.31\\-6 1.31\\-4 1.31\\-2 1.31\\0 1.31\\2 1.31\\4 1.31\\6 1.31\\8 1.31\\
-9 1.24\\-7 1.24\\-5 1.24\\-3 1.24\\-1 1.24\\1 1.24\\3 1.24\\5 1.24\\7 1.24\\9 1.24\\
-8 1.17\\-6 1.17\\-4 1.17\\-2 1.17\\0 1.17\\2 1.17\\4 1.17\\6 1.17\\8 1.17\\
-9 1.10\\-7 1.10\\-5 1.10\\-3 1.10\\-1 1.10\\1 1.10\\3 1.10\\5 1.10\\7 1.10\\9 1.10\\
-8 1.03\\-6 1.03\\-4 1.03\\-2 1.03\\0 1.03\\2 1.03\\4 1.03\\6 1.03\\8 1.03\\
-9 .96\\-7 .96\\-5 .96\\-3 .96\\-1 .96\\1 .96\\3 .96\\5 .96\\7 .96\\9 .96\\
-8 .89\\-6 .89\\-4 .89\\-2 .89\\0 .89\\2 .89\\4 .89\\6 .89\\8 .89\\
-9 .82\\-7 .82\\-5 .82\\-3 .82\\-1 .82\\1 .82\\3 .82\\5 .82\\7 .82\\9 .82\\
-8 .75\\-6 .75\\-4 .75\\-2 .75\\0 .75\\2 .75\\4 .75\\6 .75\\8 .75\\
-7 .68\\-5 .68\\-3 .68\\-1 .68\\1 .68\\3 .68\\5 .68\\7 .68\\
-6 .61\\-4 .61\\-2 .61\\0 .61\\2 .61\\4 .61\\6 .61\\
-4 .54\\-2 .54\\0 .54\\2 .54\\4 .54\\
-1 .47\\1 .47\\0 .40\\
};
\addplot[mean] coordinates {(0.66,1.05) (1.34,1.05)};
\addplot[mean] coordinates {(1.66,1.07) (2.34,1.07)};
\addplot[mean] coordinates {(2.66,0.66) (3.34,0.66)};
\addplot[mean] coordinates {(3.66,0.90) (4.34,0.90)};
\end{axis}
\end{tikzpicture}
\end{document}
